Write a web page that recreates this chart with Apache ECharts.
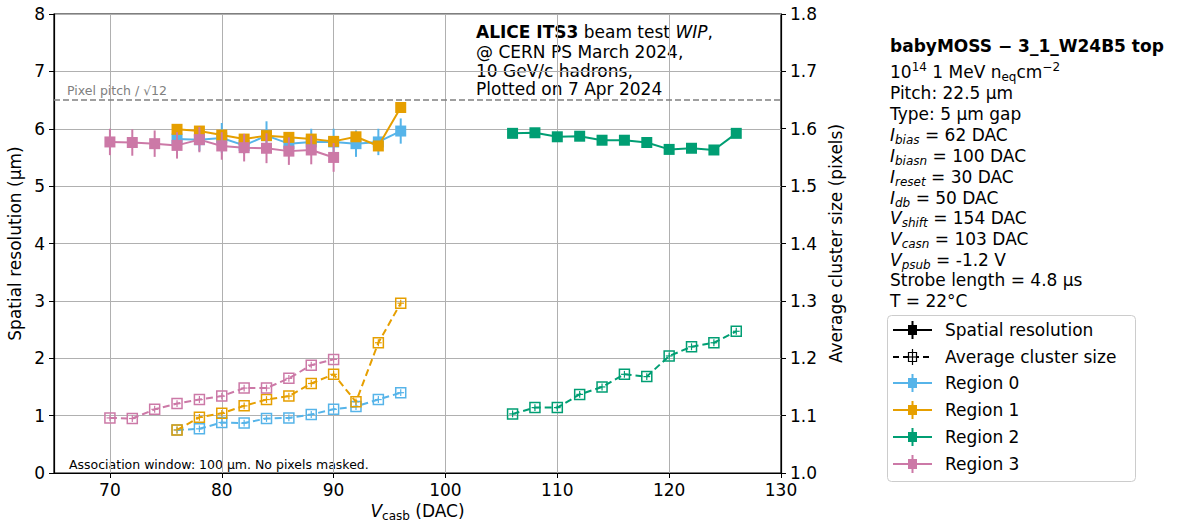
<!DOCTYPE html>
<html><head><meta charset="utf-8">
<script src="https://cdn.jsdelivr.net/npm/echarts@6/dist/echarts.min.js"></script>
<style>html,body{margin:0;padding:0;background:#fff}#c{width:1197px;height:526px}</style>
</head><body><div id="c"></div>
<script>
// ---------- data ----------
const xReg01 = [76, 78, 80, 82, 84, 86, 88, 90, 92, 94, 96];
const xReg2 = [106, 108, 110, 112, 114, 116, 118, 120, 122, 124, 126];
const xReg3 = [70, 72, 74, 76, 78, 80, 82, 84, 86, 88, 90];

const res0 = [5.82, 5.81, 5.84, 5.71, 5.88, 5.74, 5.77, 5.77, 5.74, 5.77, 5.96];
const res0Err = [0.10, 0.20, 0.26, 0.15, 0.25, 0.12, 0.23, 0.23, 0.23, 0.23, 0.22];
const res1 = [5.99, 5.96, 5.89, 5.82, 5.88, 5.85, 5.82, 5.78, 5.86, 5.70, 6.37];
const res1Err = [0.04, 0.04, 0.04, 0.04, 0.04, 0.04, 0.04, 0.04, 0.04, 0.04, 0.04];
const res2 = [5.92, 5.93, 5.86, 5.87, 5.80, 5.80, 5.76, 5.64, 5.66, 5.63, 5.92];
const res2Err = [0.03, 0.03, 0.03, 0.03, 0.03, 0.03, 0.03, 0.03, 0.03, 0.03, 0.03];
const res3 = [5.77, 5.76, 5.74, 5.71, 5.81, 5.70, 5.67, 5.66, 5.61, 5.63, 5.50];
const res3Err = [0.23, 0.23, 0.23, 0.23, 0.22, 0.24, 0.24, 0.26, 0.24, 0.25, 0.25];

const clu0 = [1.075, 1.077, 1.088, 1.087, 1.095, 1.096, 1.102, 1.111, 1.116, 1.128, 1.140];
const clu1 = [1.075, 1.097, 1.104, 1.117, 1.128, 1.134, 1.156, 1.172, 1.124, 1.227, 1.296];
const clu2 = [1.103, 1.114, 1.114, 1.137, 1.150, 1.172, 1.168, 1.204, 1.220, 1.227, 1.247];
const clu3 = [1.096, 1.095, 1.111, 1.121, 1.128, 1.134, 1.148, 1.148, 1.165, 1.188, 1.198];
const cluErr = [0.006, 0.006, 0.006, 0.006, 0.006, 0.006, 0.006, 0.006, 0.006, 0.006, 0.006];
const cluXErr = 0.3;

const pixelPitch = 22.5; // µm
const regionNames = ['Region 0', 'Region 1', 'Region 2', 'Region 3'];
const colors = ['#56B4E9', '#E69F00', '#009E73', '#CC79A7'];

// ---------- chart ----------
const FONT = 'DejaVu Sans';
const chart = echarts.init(document.getElementById('c'), null, {renderer: 'svg'});

const regions = [
  {x: xReg01, res: res0, resErr: res0Err, clu: clu0},
  {x: xReg01, res: res1, resErr: res1Err, clu: clu1},
  {x: xReg2, res: res2, resErr: res2Err, clu: clu2},
  {x: xReg3, res: res3, resErr: res3Err, clu: clu3}
];

function errSeries(xs, ys, errs, color, yAxisIndex, withX, z) {
  return {
    type: 'custom', yAxisIndex: yAxisIndex, silent: true, z: z,
    data: xs.map((x, i) => [x, ys[i], errs[i]]),
    encode: {x: 0, y: 1},
    renderItem: function (params, api) {
      const x = api.value(0), y = api.value(1), e = api.value(2);
      const t = api.coord([x, y + e]), b = api.coord([x, y - e]);
      const ch = [{type: 'line', shape: {x1: t[0], y1: t[1], x2: b[0], y2: b[1]},
        style: {stroke: color, lineWidth: withX ? 1.2 : 2}}];
      if (withX) {
        const l = api.coord([x - cluXErr, y]), r = api.coord([x + cluXErr, y]);
        ch.push({type: 'line', shape: {x1: l[0], y1: l[1], x2: r[0], y2: r[1]},
          style: {stroke: color, lineWidth: 1.2}});
      }
      return {type: 'group', children: ch};
    }
  };
}

const series = [];
regions.forEach((r, k) => {
  const c = colors[k];
  series.push(errSeries(r.x, r.res, r.resErr, c, 0, false, 2 + k));
  series.push({
    name: regionNames[k], type: 'line', yAxisIndex: 0, z: 3 + k,
    data: r.x.map((x, i) => [x, r.res[i]]),
    symbol: 'rect', symbolSize: 11, showSymbol: true,
    itemStyle: {color: c}, lineStyle: {color: c, width: 2},
    emphasis: {disabled: true}, animation: false
  });
  series.push(errSeries(r.x, r.clu, cluErr, c, 1, true, 2 + k));
  series.push({
    name: regionNames[k] + ' cluster', type: 'line', yAxisIndex: 1, z: 3 + k,
    data: r.x.map((x, i) => [x, r.clu[i]]),
    symbol: 'rect', symbolSize: 10, showSymbol: true,
    itemStyle: {color: 'rgba(255,255,255,0)', borderColor: c, borderWidth: 1.5},
    lineStyle: {color: c, width: 2, type: [7, 4]},
    emphasis: {disabled: true}, animation: false
  });
});
// pixel pitch reference line
series[1].markLine = {
  silent: true, symbol: 'none', animation: false,
  lineStyle: {color: '#808080', width: 1.5, type: [6, 3]},
  label: {show: false},
  data: [{yAxis: pixelPitch / Math.sqrt(12)}]
};

function t(x, y, text, extra) {
  return {type: 'text', x: x, y: y, silent: true,
    style: Object.assign({text: text, font: '17px "DejaVu Sans"', fill: '#000',
      textVerticalAlign: 'middle'}, extra || {})};
}
const richInfo = {
  i: {fontStyle: 'italic', fontSize: 17, fontFamily: FONT, lineHeight: 22, verticalAlign: 'middle'},
  s: {fontStyle: 'italic', fontSize: 12, fontFamily: FONT, lineHeight: 12, verticalAlign: 'bottom'},
  sub: {fontSize: 12, fontFamily: FONT, lineHeight: 12, verticalAlign: 'bottom'},
  sup: {fontSize: 12, fontFamily: FONT, lineHeight: 12, verticalAlign: 'top'},
  n: {fontSize: 17, fontFamily: FONT, lineHeight: 22, verticalAlign: 'middle'}
};
const infoLines = [
  '{n|10}{sup|14}{n| 1 MeV n}{sub|eq}{n|cm}{sup|−2}',
  '{n|Pitch: 22.5 µm}',
  '{n|Type: 5 µm gap}',
  '{i|I}{s|bias}{n| = 62 DAC}',
  '{i|I}{s|biasn}{n| = 100 DAC}',
  '{i|I}{s|reset}{n| = 30 DAC}',
  '{i|I}{s|db}{n| = 50 DAC}',
  '{i|V}{s|shift}{n| = 154 DAC}',
  '{i|V}{s|casn}{n| = 103 DAC}',
  '{i|V}{s|psub}{n| = -1.2 V}',
  '{n|Strobe length = 4.8 µs}',
  '{n|T = 22°C}'
];
const infoY = [72, 93, 114, 135, 156, 177, 198, 218, 239, 260, 280, 301];

const graphics = [];
graphics.push(t(890, 46, 'babyMOSS − 3_1_W24B5 top', {font: 'bold 17px "DejaVu Sans"'}));
infoLines.forEach((s, i) => graphics.push(t(890, infoY[i], s, {rich: richInfo})));

// top annotation
const annRich = {
  b: {fontWeight: 'bold', fontSize: 17, fontFamily: FONT},
  i: {fontStyle: 'italic', fontSize: 17, fontFamily: FONT},
  n: {fontSize: 17, fontFamily: FONT}
};
graphics.push(t(476, 32, '{b|ALICE ITS3}{n| beam test }{i|WIP}{n|,}', {rich: annRich}));
graphics.push(t(476, 52, '@ CERN PS March 2024,'));
graphics.push(t(476, 71, '10 GeV/c hadrons,'));
graphics.push(t(476, 89, 'Plotted on 7 Apr 2024'));
graphics.push(t(67, 90, 'Pixel pitch / √12', {font: '12.5px "DejaVu Sans"', fill: '#808080'}));
graphics.push(t(69, 464, 'Association window: 100 µm. No pixels masked.', {font: '12.5px "DejaVu Sans"'}));

// legend
graphics.push({type: 'rect', silent: true, shape: {x: 887.5, y: 315.5, width: 248, height: 166, r: 4},
  style: {fill: 'rgba(255,255,255,0.8)', stroke: '#cccccc', lineWidth: 1}});
const legItems = [
  {label: 'Spatial resolution', color: '#000', dashed: false, open: false},
  {label: 'Average cluster size', color: '#000', dashed: true, open: true}
].concat(regionNames.map((n, k) => ({label: n, color: colors[k], dashed: false, open: false})));
const legY = [330, 357, 383, 410, 437, 464];
legItems.forEach((it, i) => {
  const y = legY[i];
  graphics.push({type: 'line', silent: true, shape: {x1: 893, y1: y, x2: 932, y2: y},
    style: {stroke: it.color, lineWidth: 2, lineDash: it.dashed ? [6, 4] : null}});
  if (it.open) {
    graphics.push({type: 'rect', silent: true, shape: {x: 908.5, y: y - 4.5, width: 8, height: 9},
      style: {fill: '#fff', stroke: it.color, lineWidth: 1.2}});
    graphics.push({type: 'line', silent: true, shape: {x1: 912.5, y1: y - 8, x2: 912.5, y2: y + 8},
      style: {stroke: it.color, lineWidth: 1.2}});
    graphics.push({type: 'line', silent: true, shape: {x1: 909, y1: y, x2: 916, y2: y},
      style: {stroke: it.color, lineWidth: 1.2}});
  } else {
    graphics.push({type: 'line', silent: true, shape: {x1: 912.5, y1: y - 9, x2: 912.5, y2: y + 9},
      style: {stroke: it.color, lineWidth: 2}});
    graphics.push({type: 'rect', silent: true, shape: {x: 908, y: y - 5, width: 9, height: 10},
      style: {fill: it.color}});
  }
  graphics.push(t(945, y, it.label));
});

const axisFont = {fontFamily: FONT, fontSize: 17, color: '#000'};
chart.setOption({
  animation: false,
  backgroundColor: '#fff',
  grid: {left: 54, right: 416, top: 14, bottom: 53, show: true, borderColor: '#000', borderWidth: 1.2,
    backgroundColor: 'transparent', containLabel: false, outerBoundsMode: 'none'},
  xAxis: {
    type: 'value', min: 65, max: 130, splitNumber: 6,
    name: '{i|V}{s|casb}{n| (DAC)}', nameLocation: 'middle', nameGap: 26,
    nameTextStyle: {rich: {
      i: {fontStyle: 'italic', fontSize: 17, fontFamily: FONT, lineHeight: 22, verticalAlign: 'middle', color: '#000'},
      s: {fontSize: 12, fontFamily: FONT, lineHeight: 12, verticalAlign: 'bottom', color: '#000'},
      n: {fontSize: 17, fontFamily: FONT, lineHeight: 22, verticalAlign: 'middle', color: '#000'}}},
    axisLine: {show: true, onZero: false, lineStyle: {color: '#000', width: 1.2}},
    axisTick: {show: true, inside: false, length: 5, lineStyle: {color: '#000', width: 1}},
    axisLabel: Object.assign({margin: 8, showMinLabel: false}, axisFont),
    splitLine: {show: true, lineStyle: {color: '#b0b0b0', width: 1}}
  },
  yAxis: [
    {
      type: 'value', min: 0, max: 8, interval: 1, position: 'left',
      name: 'Spatial resolution (μm)', nameLocation: 'middle', nameGap: 28, nameRotate: 90,
      nameTextStyle: axisFont,
      axisLine: {show: true, lineStyle: {color: '#000', width: 1.2}},
      axisTick: {show: true, length: 5, lineStyle: {color: '#000'}},
      axisLabel: Object.assign({margin: 9}, axisFont),
      splitLine: {show: true, lineStyle: {color: '#b0b0b0', width: 1}}
    },
    {
      type: 'value', min: 1.0, max: 1.8, interval: 0.1, position: 'right',
      name: 'Average cluster size (pixels)', nameLocation: 'middle', nameGap: 36, nameRotate: 90,
      nameTextStyle: axisFont,
      axisLine: {show: true, lineStyle: {color: '#000', width: 1.2}},
      axisTick: {show: true, length: 5, lineStyle: {color: '#000'}},
      axisLabel: Object.assign({margin: 9, formatter: v => v.toFixed(1)}, axisFont),
      splitLine: {show: false}
    }
  ],
  series: series,
  graphic: graphics
});
</script></body></html>
